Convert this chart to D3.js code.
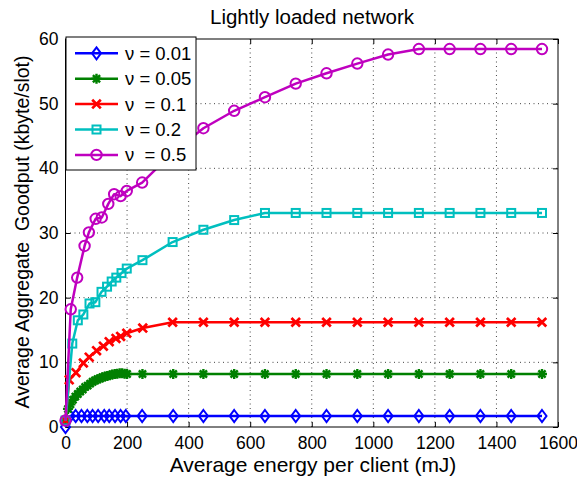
<!DOCTYPE html>
<html>
<head>
<meta charset="utf-8">
<script src="https://cdn.jsdelivr.net/npm/d3@7"></script>
<style>
  body { margin: 0; background: #fff; }
  text { font-family: "Liberation Sans", Arial, Helvetica, sans-serif; fill: #000; }
</style>
</head>
<body>
<svg id="chart" width="577" height="477"></svg>
<script>
// ---- data ----
const xTicks = [0, 200, 400, 600, 800, 1000, 1200, 1400, 1600];
const yTicks = [0, 10, 20, 30, 40, 50, 60];
const tailX = [448, 548, 648, 748, 848, 948, 1048, 1148, 1248, 1348, 1448, 1548];

const blueX = [0, 15, 33, 52, 71, 88, 106, 126, 142, 161, 179, 196, 249, 350].concat(tailX);
const blueY = [0, 1.7, 1.7, 1.7, 1.7, 1.7, 1.7, 1.7, 1.7, 1.7, 1.7, 1.7, 1.7, 1.7,
               1.7, 1.7, 1.7, 1.7, 1.7, 1.7, 1.7, 1.7, 1.7, 1.7, 1.7, 1.7];

const greenX = [0, 8, 16, 24, 32, 40, 48, 56, 64, 72, 80, 88, 96, 104, 112, 120, 128, 136, 144, 152, 160, 168, 176, 184, 192, 200, 250, 350].concat(tailX);
const greenY = [1.0, 2.8, 3.5, 4.2, 4.7, 5.1, 5.5, 5.8, 6.2, 6.4, 6.7, 7.0, 7.2, 7.4, 7.5, 7.7, 7.8, 7.9, 8.0, 8.1, 8.2, 8.25, 8.3, 8.3, 8.25, 8.2, 8.2, 8.2,
                8.2, 8.2, 8.2, 8.2, 8.2, 8.2, 8.2, 8.2, 8.2, 8.2, 8.2, 8.2];

const redX = [0, 12, 34, 58, 77, 101, 123, 142, 164, 179, 199, 251, 348].concat(tailX);
const redY = [1.0, 7.3, 8.4, 9.9, 10.8, 11.8, 12.5, 13.2, 13.7, 14.0, 14.5, 15.3, 16.2,
              16.2, 16.2, 16.2, 16.2, 16.2, 16.2, 16.2, 16.2, 16.2, 16.2, 16.2, 16.2];

const cyanX = [0, 22, 40, 58, 78, 97, 117, 135, 150, 165, 182, 199, 250, 348].concat(tailX);
const cyanY = [1.0, 12.9, 16.5, 17.4, 19.1, 19.3, 20.9, 21.7, 22.5, 23.1, 23.8, 24.5, 25.8, 28.6,
               30.5, 32.0, 33.1, 33.1, 33.1, 33.1, 33.1, 33.1, 33.1, 33.1, 33.1, 33.1];

const magentaX = [0, 17, 38, 62, 76, 98, 118, 139, 158, 179, 199, 249, 350].concat(tailX);
const magentaY = [1.0, 18.2, 23.1, 28.0, 30.1, 32.2, 32.4, 34.5, 36.0, 35.7, 36.5, 37.8, 42.5,
                  46.2, 48.9, 51.0, 53.1, 54.7, 56.2, 57.6, 58.45, 58.45, 58.45, 58.45, 58.45, 58.45];

const seriesNames = ["ν = 0.01", "ν = 0.05", "ν  = 0.1", "ν = 0.2", "ν  = 0.5"];
const seriesColors = ["#0000ff", "#008000", "#ff0000", "#00bfbf", "#bf00bf"];
const seriesMarkers = ["diamond", "star", "cross", "square", "circle"];
const seriesX = [blueX, greenX, redX, cyanX, magentaX];
const seriesY = [blueY, greenY, redY, cyanY, magentaY];

// ---- layout ----
const svg = d3.select("#chart");
const M = { left: 65.5, top: 39, right: 558, bottom: 427 };
const x = d3.scaleLinear().domain([0, 1600]).range([M.left, M.right]);
const y = d3.scaleLinear().domain([0, 60]).range([M.bottom, M.top]);

// grid
const grid = svg.append("g").attr("stroke", "#444").attr("stroke-width", 1)
  .attr("stroke-dasharray", "1,3.5");
xTicks.slice(1, -1).forEach(t => grid.append("line")
  .attr("x1", x(t)).attr("x2", x(t)).attr("y1", M.top).attr("y2", M.bottom));
yTicks.slice(1, -1).forEach(t => grid.append("line")
  .attr("x1", M.left).attr("x2", M.right).attr("y1", y(t)).attr("y2", y(t)));

// axes
const tl = 5;
const fmt = d3.format("d");
const gx = svg.append("g").attr("transform", `translate(0,${M.bottom})`)
  .call(d3.axisBottom(x).tickValues(xTicks).tickFormat(fmt).tickSizeInner(-tl).tickSizeOuter(0).tickPadding(10));
const gxt = svg.append("g").attr("transform", `translate(0,${M.top})`)
  .call(d3.axisTop(x).tickValues(xTicks).tickSizeInner(-tl).tickSizeOuter(0).tickFormat(""));
const gy = svg.append("g").attr("transform", `translate(${M.left},0)`)
  .call(d3.axisLeft(y).tickValues(yTicks).tickFormat(fmt).tickSizeInner(-tl).tickSizeOuter(0).tickPadding(7));
const gyr = svg.append("g").attr("transform", `translate(${M.right},0)`)
  .call(d3.axisRight(y).tickValues(yTicks).tickSizeInner(-tl).tickSizeOuter(0).tickFormat(""));
[gx, gxt, gy, gyr].forEach(g => {
  g.select(".domain").remove();
  g.selectAll("line").attr("stroke", "#000").attr("stroke-width", 1);
  g.selectAll("text").style("font-size", "17.5px").style("font-family", "Liberation Sans, Arial, sans-serif").attr("fill", "#000");
});

svg.append("rect").attr("x", M.left).attr("y", M.top)
  .attr("width", M.right - M.left).attr("height", M.bottom - M.top)
  .attr("fill", "none").attr("stroke", "#000").attr("stroke-width", 1);

// markers
function drawMarker(g, type, cx, cy, color) {
  const sw = 2;
  if (type === "diamond") {
    g.append("path").attr("d", `M${cx},${cy - 6}L${cx + 4.5},${cy}L${cx},${cy + 6}L${cx - 4.5},${cy}Z`)
      .attr("fill", "none").attr("stroke", color).attr("stroke-width", sw);
  } else if (type === "star") {
    const r = 5, d = r * 0.72;
    g.append("path").attr("d", `M${cx - r},${cy}L${cx + r},${cy}M${cx},${cy - r}L${cx},${cy + r}M${cx - d},${cy - d}L${cx + d},${cy + d}M${cx - d},${cy + d}L${cx + d},${cy - d}`)
      .attr("stroke", color).attr("stroke-width", 2.4).attr("fill", "none");
  } else if (type === "cross") {
    const r = 4.3;
    g.append("path").attr("d", `M${cx - r},${cy - r}L${cx + r},${cy + r}M${cx - r},${cy + r}L${cx + r},${cy - r}`)
      .attr("stroke", color).attr("stroke-width", 2.7).attr("fill", "none");
  } else if (type === "square") {
    g.append("rect").attr("x", cx - 4).attr("y", cy - 4).attr("width", 8).attr("height", 8)
      .attr("fill", "none").attr("stroke", color).attr("stroke-width", sw);
  } else if (type === "circle") {
    g.append("circle").attr("cx", cx).attr("cy", cy).attr("r", 5.2)
      .attr("fill", "none").attr("stroke", color).attr("stroke-width", sw);
  }
}

const line = d3.line().x(d => x(d[0])).y(d => y(d[1]));
seriesX.forEach((xs, i) => {
  const pts = xs.map((v, j) => [v, seriesY[i][j]]);
  const g = svg.append("g");
  g.append("path").attr("d", line(pts)).attr("fill", "none")
    .attr("stroke", seriesColors[i]).attr("stroke-width", 2.5).attr("stroke-linejoin", "round");
  pts.forEach(p => drawMarker(g, seriesMarkers[i], x(p[0]), y(p[1]), seriesColors[i]));
});

// legend
const lg = svg.append("g");
lg.append("rect").attr("x", 66).attr("y", 37).attr("width", 130).attr("height", 133)
  .attr("fill", "#fff").attr("stroke", "#000").attr("stroke-width", 1);
seriesNames.forEach((name, i) => {
  const ly = 53.3 + i * 25.4;
  lg.append("line").attr("x1", 75).attr("x2", 118).attr("y1", ly).attr("y2", ly)
    .attr("stroke", seriesColors[i]).attr("stroke-width", 2.5);
  drawMarker(lg, seriesMarkers[i], 96.5, ly, seriesColors[i]);
  lg.append("text").attr("x", 125).attr("y", ly + 6.5).style("font-size", "18.5px")
    .style("white-space", "pre").attr("xml:space", "preserve").text(name);
});

// titles
svg.append("text").attr("x", 312).attr("y", 24).attr("text-anchor", "middle")
  .style("font-size", "20.5px").text("Lightly loaded network");
svg.append("text").attr("x", 313).attr("y", 472).attr("text-anchor", "middle")
  .style("font-size", "21px").text("Average energy per client (mJ)");
svg.append("text").attr("transform", "translate(29,232) rotate(-90)").attr("text-anchor", "middle")
  .style("font-size", "19.5px").style("white-space", "pre").attr("xml:space", "preserve")
  .text("Average Aggregate  Goodput (kbyte/slot)");
</script>
</body>
</html>
